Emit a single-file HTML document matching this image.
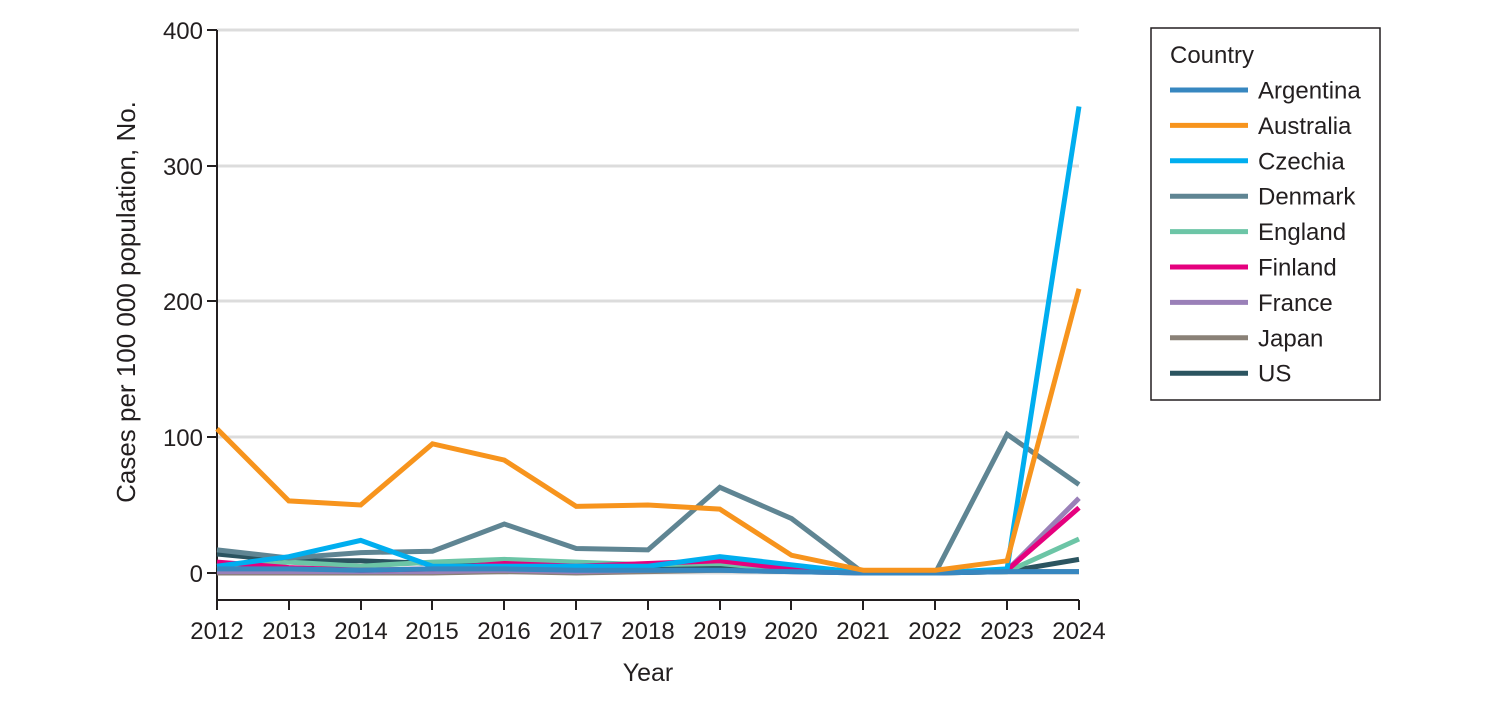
<!DOCTYPE html><html><head><style>body{margin:0;background:#fff}svg text{font-family:"Liberation Sans",sans-serif;fill:#231f20}</style></head><body>
<svg width="1492" height="714" xmlns="http://www.w3.org/2000/svg">
<g stroke="#dcdcdc" stroke-width="3">
<line x1="217" x2="1079" y1="30" y2="30"/><line x1="217" x2="1079" y1="166" y2="166"/><line x1="217" x2="1079" y1="301" y2="301"/><line x1="217" x2="1079" y1="437" y2="437"/><line x1="217" x2="1079" y1="573" y2="573"/></g>
<g stroke="#231f20" stroke-width="2" fill="none">
<line x1="217" y1="30" x2="217" y2="600"/><line x1="217" y1="600" x2="1079" y2="600"/>
<path d="M207 30H217M207 166H217M207 301H217M207 437H217M207 573H217"/>
<path d="M217 600v10M289 600v10M361 600v10M432 600v10M504 600v10M576 600v10M648 600v10M720 600v10M791 600v10M863 600v10M935 600v10M1007 600v10M1079 600v10"/></g>
<g font-size="24" text-anchor="end"><text x="203" y="39">400</text><text x="203" y="175">300</text><text x="203" y="310">200</text><text x="203" y="446">100</text><text x="203" y="582">0</text></g>
<g font-size="24" text-anchor="middle"><text x="217" y="639">2012</text><text x="289" y="639">2013</text><text x="361" y="639">2014</text><text x="432" y="639">2015</text><text x="504" y="639">2016</text><text x="576" y="639">2017</text><text x="648" y="639">2018</text><text x="720" y="639">2019</text><text x="791" y="639">2020</text><text x="863" y="639">2021</text><text x="935" y="639">2022</text><text x="1007" y="639">2023</text><text x="1079" y="639">2024</text>
<text x="648" y="681" font-size="25">Year</text>
<text transform="translate(135 302) rotate(-90)" font-size="26">Cases per 100 000 population, No.</text></g>
<g fill="none" stroke-width="5">
<polyline stroke="#8a8177" points="217,573 288.8,573 360.7,573 432.5,573 504.3,571.6 576.2,573 648,571.6 719.8,570.3 791.6,571.6 863.5,573 935.3,573 1007.1,571.6 1079,571.6"/>
<polyline stroke="#9a80b8" points="217,571.6 288.8,571.6 360.7,571.6 432.5,571.6 504.3,570.3 576.2,571.6 648,570.3 719.8,568.9 791.6,571.6 863.5,573 935.3,573 1007.1,570.3 1079,498.2"/>
<polyline stroke="#2b5460" points="217,554 288.8,560.8 360.7,560.8 432.5,563.5 504.3,564.8 576.2,566.2 648,566.2 719.8,566.2 791.6,570.3 863.5,573 935.3,573 1007.1,571.6 1079,559.4"/>
<polyline stroke="#6cc5a6" points="217,568.9 288.8,562.1 360.7,566.2 432.5,562.1 504.3,559.4 576.2,562.1 648,564.8 719.8,563.5 791.6,570.3 863.5,571.6 935.3,571.6 1007.1,571.6 1079,539"/>
<polyline stroke="#e5007e" points="217,562.1 288.8,567.6 360.7,570.3 432.5,568.9 504.3,563.5 576.2,566.2 648,563.5 719.8,560.8 791.6,568.9 863.5,573 935.3,573 1007.1,570.3 1079,507.7"/>
<polyline stroke="#5f8593" points="217,549.9 288.8,558 360.7,552.6 432.5,551.2 504.3,524 576.2,548.5 648,549.9 719.8,487.3 791.6,518.6 863.5,573 935.3,573 1007.1,434.3 1079,484.6"/>
<polyline stroke="#00aeef" points="217,566.2 288.8,556.7 360.7,540.4 432.5,566.2 504.3,566.2 576.2,566.2 648,566.2 719.8,556.7 791.6,564.8 863.5,573 935.3,573 1007.1,568.9 1079,106.5"/>
<polyline stroke="#3787c0" points="217,568.9 288.8,568.9 360.7,570.3 432.5,568.9 504.3,568.9 576.2,570.3 648,570.3 719.8,570.3 791.6,571.6 863.5,573 935.3,573 1007.1,571.6 1079,571.6"/>
<polyline stroke="#f7941d" points="217,428.8 288.8,500.9 360.7,505 432.5,443.8 504.3,460.1 576.2,506.4 648,505 719.8,509.1 791.6,555.3 863.5,570.3 935.3,570.3 1007.1,560.8 1079,288.8"/>
</g>
<rect x="1151" y="28" width="229" height="372" fill="#fff" stroke="#231f20" stroke-width="1.5"/>
<text x="1170" y="63" font-size="24">Country</text>
<g stroke-width="5">
<line x1="1170" x2="1248" y1="90" y2="90" stroke="#3787c0"/>
<line x1="1170" x2="1248" y1="125.4" y2="125.4" stroke="#f7941d"/>
<line x1="1170" x2="1248" y1="160.8" y2="160.8" stroke="#00aeef"/>
<line x1="1170" x2="1248" y1="196.2" y2="196.2" stroke="#5f8593"/>
<line x1="1170" x2="1248" y1="231.6" y2="231.6" stroke="#6cc5a6"/>
<line x1="1170" x2="1248" y1="267" y2="267" stroke="#e5007e"/>
<line x1="1170" x2="1248" y1="302.4" y2="302.4" stroke="#9a80b8"/>
<line x1="1170" x2="1248" y1="337.8" y2="337.8" stroke="#8a8177"/>
<line x1="1170" x2="1248" y1="373.2" y2="373.2" stroke="#2b5460"/>
</g>
<g font-size="24">
<text x="1258" y="98.5">Argentina</text><text x="1258" y="133.9">Australia</text><text x="1258" y="169.3">Czechia</text><text x="1258" y="204.7">Denmark</text><text x="1258" y="240.1">England</text><text x="1258" y="275.5">Finland</text><text x="1258" y="310.9">France</text><text x="1258" y="346.3">Japan</text><text x="1258" y="381.7">US</text>
</g>
</svg></body></html>
